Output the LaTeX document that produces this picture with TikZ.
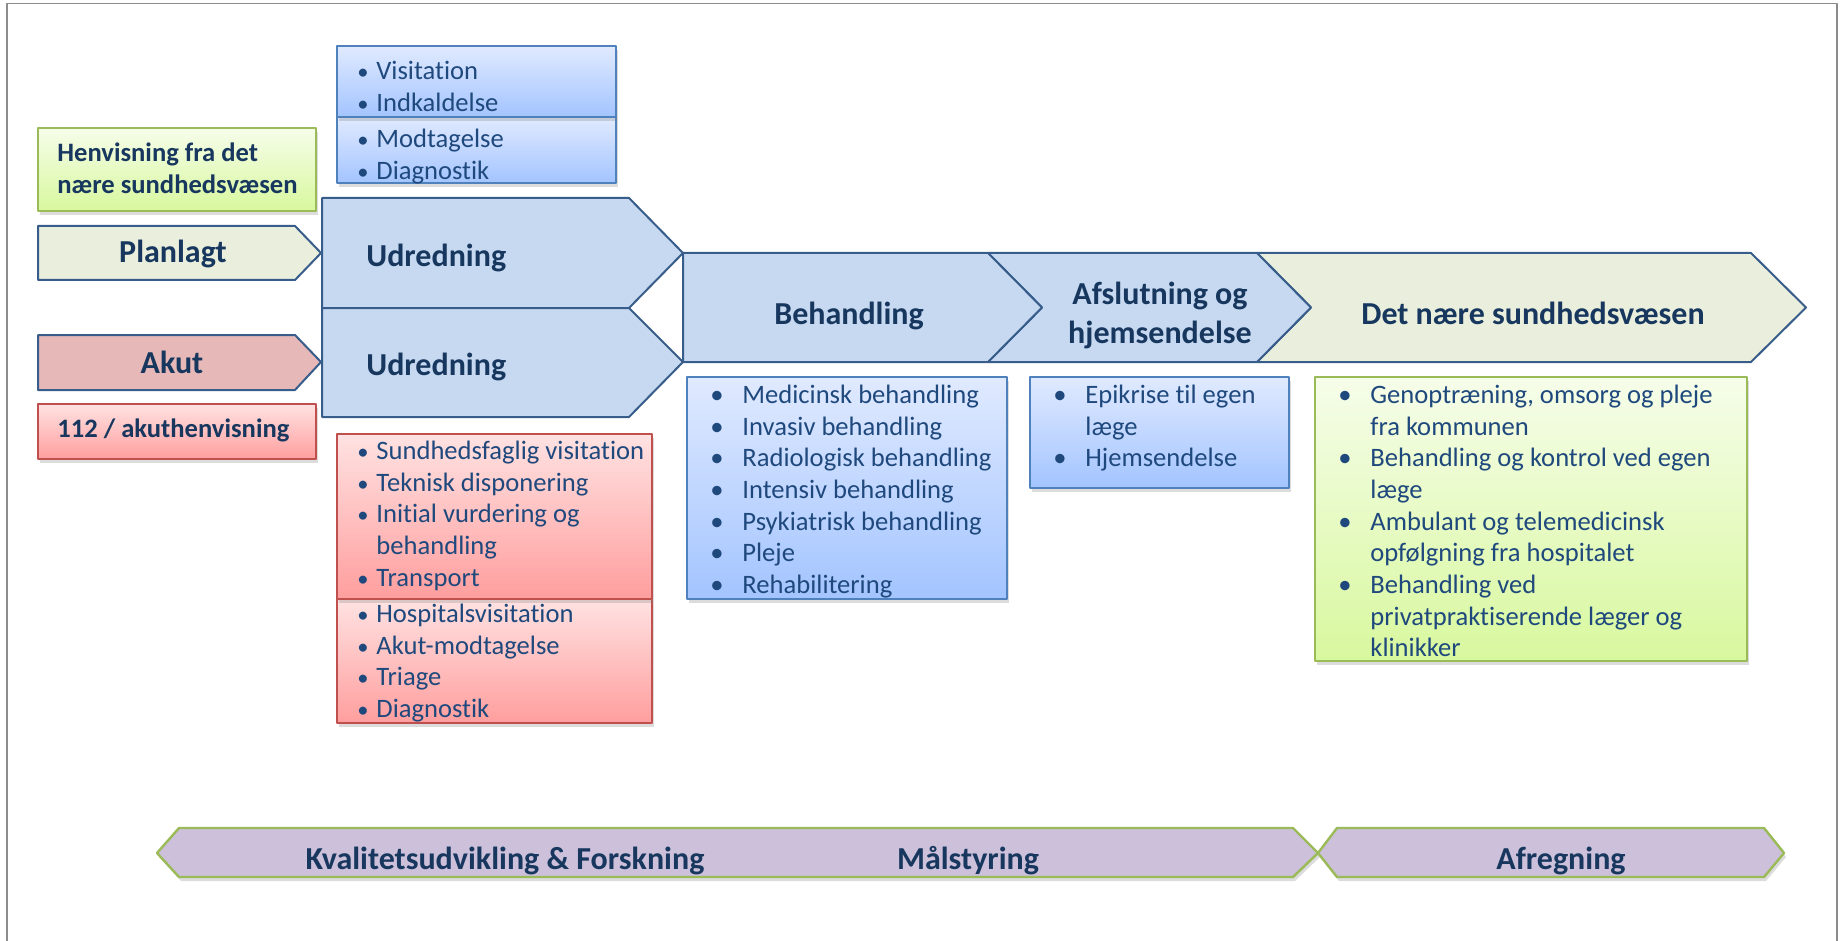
\documentclass[tikz,border=0pt]{standalone}
\usepackage{fontspec}
\setmainfont{Carlito}[Ligatures={NoCommon}]
\usetikzlibrary{shadows}

\definecolor{arrline}{RGB}{56,93,138}
\definecolor{arrblue}{RGB}{198,217,241}
\definecolor{arrgreen}{RGB}{234,239,221}
\definecolor{arrred}{RGB}{230,185,184}
\definecolor{ttltxt}{RGB}{23,55,94}
\definecolor{bultxt}{RGB}{31,73,125}
\definecolor{bboxline}{RGB}{79,129,189}
\definecolor{bboxtop}{RGB}{224,234,255}
\definecolor{bboxbot}{RGB}{163,196,255}
\definecolor{rboxline}{RGB}{192,80,77}
\definecolor{rboxtop}{RGB}{255,226,226}
\definecolor{rboxbot}{RGB}{255,158,158}
\definecolor{gboxline}{RGB}{155,187,89}
\definecolor{gboxtop}{RGB}{246,253,234}
\definecolor{gboxbot}{RGB}{216,248,158}
\definecolor{hexfill}{RGB}{204,192,218}
\definecolor{framegray}{RGB}{140,140,140}

\newcommand{\bul}{\strut\makebox[9.5pt][l]{\scalebox{0.85}{\textbullet}}}
\newcommand{\bulw}{\strut\makebox[16pt][l]{\textbullet}}
\newcommand{\cnt}{\strut\hspace*{9.5pt}}
\newcommand{\cntw}{\strut\hspace*{16pt}}

\begin{document}
\begin{tikzpicture}[x=0.5pt,y=-0.5pt,line join=round,
    arr/.style={draw=arrline,line width=1pt},
    shd/.style={drop shadow={shadow xshift=1pt,shadow yshift=-2pt,opacity=0.28}},
    bbox/.style={shd,draw=bboxline,line width=0.75pt,top color=bboxtop,bottom color=bboxbot},
    rbox/.style={shd,draw=rboxline,line width=0.75pt,top color=rboxtop,bottom color=rboxbot},
    gbox/.style={shd,draw=gboxline,line width=0.75pt,top color=gboxtop,bottom color=gboxbot},
    hex/.style={shd,draw=gboxline,line width=1.2pt,fill=hexfill},
    ttl/.style={font=\fontsize{16}{19.5}\selectfont\bfseries,text=ttltxt,inner sep=0pt},
    hdr/.style={font=\fontsize{13.3}{16}\selectfont\bfseries,text=ttltxt,align=left,inner sep=0pt},
    lst/.style={font=\fontsize{13.3}{15.85}\selectfont,text=bultxt,align=left,inner sep=0pt,anchor=north west}]
    \useasboundingbox (0,0) rectangle (1841,941);
    \draw[framegray,line width=0.85pt] (7,960) -- (7,3.5) -- (1837,3.5) -- (1837,960);

    % left column
    \draw[gbox] (38,128) rectangle (316,211);
    \node[hdr,anchor=north west] (henv) at (57,138.6) {\strut Henvisning fra det\\\strut nære sundhedsvæsen};
    \draw[arr,fill=arrgreen] (38,226) -- (295,226) -- (321,253) -- (295,280) -- (38,280) -- cycle;
    \node[ttl,anchor=base] (planlagt) at (173,263) {Planlagt};
    \draw[arr,fill=arrred] (38,335) -- (295,335) -- (321,362) -- (295,390) -- (38,390) -- cycle;
    \node[ttl,anchor=base] (akut) at (172,373) {Akut};
    \draw[rbox] (38,404) rectangle (316,459);
    \node[hdr,anchor=base west] (akuthenv) at (57,437) {112 / akuthenvisning};

    % udredning
    \draw[bbox] (337,117) rectangle (616,183);
    \draw[bbox] (337,46) rectangle (616,117);
    \node[lst] (visit) at (357,56.8) {\bul Visitation\\\bul Indkaldelse};
    \node[lst] (modt) at (357,124.8) {\bul Modtagelse\\\bul Diagnostik};
    \draw[arr,fill=arrblue] (322,198) -- (629,198) -- (683,253) -- (629,308) -- (322,308) -- cycle;
    \draw[arr,fill=arrblue] (322,308) -- (629,308) -- (683,362) -- (629,417) -- (322,417) -- cycle;
    \node[ttl,anchor=base west] (udr1) at (366,266) {Udredning};
    \node[ttl,anchor=base west] (udr2) at (366,375) {Udredning};
    \draw[rbox] (337,599) rectangle (652,723);
    \draw[rbox] (337,434) rectangle (652,599);
    \node[lst] (praehosp) at (357,436.8) {\bul Sundhedsfaglig visitation\\\bul Teknisk disponering\\\bul Initial vurdering og\\\cnt behandling\\\bul Transport};
    \node[lst] (hosp) at (357,599.8) {\bul Hospitalsvisitation\\\bul Akut-modtagelse\\\bul Triage\\\bul Diagnostik};

    % forloeb
    \draw[arr,fill=arrgreen] (1257,253) -- (1751,253) -- (1806,307.5) -- (1751,362) -- (1257,362) -- (1311,307.5) -- cycle;
    \draw[arr,fill=arrblue] (988,253) -- (1257,253) -- (1311,307.5) -- (1257,362) -- (988,362) -- (1042,307.5) -- cycle;
    \draw[arr,fill=arrblue] (683,253) -- (988,253) -- (1042,307.5) -- (988,362) -- (683,362) -- cycle;
    \node[ttl,anchor=base] (beh) at (849,324) {Behandling};
    \node[ttl,anchor=north,align=center] (afsl) at (1160,276.7) {\strut Afslutning og\\\strut hjemsendelse};
    \node[ttl,anchor=base] (naere) at (1533,324) {Det nære sundhedsvæsen};

    \draw[bbox] (687,377) rectangle (1007,599);
    \node[lst] (behl) at (710,380.8) {\bulw Medicinsk behandling\\\bulw Invasiv behandling\\\bulw Radiologisk behandling\\\bulw Intensiv behandling\\\bulw Psykiatrisk behandling\\\bulw Pleje\\\bulw Rehabilitering};
    \draw[bbox] (1030,377) rectangle (1289,488);
    \node[lst] (afsll) at (1053,380.8) {\bulw Epikrise til egen\\\cntw læge\\\bulw Hjemsendelse};
    \draw[gbox] (1315,377) rectangle (1747,661);
    \node[lst] (naerel) at (1338,380.8) {\bulw Genoptræning, omsorg og pleje\\\cntw fra kommunen\\\bulw Behandling og kontrol ved egen\\\cntw læge\\\bulw Ambulant og telemedicinsk\\\cntw opfølgning fra hospitalet\\\bulw Behandling ved\\\cntw privatpraktiserende læger og\\\cntw klinikker};

    % tvaergaaende
    \draw[hex] (157,853) -- (179,828) -- (1293,828) -- (1318,853) -- (1293,877) -- (179,877) -- cycle;
    \draw[hex] (1318,853) -- (1337,828) -- (1764,828) -- (1784,853) -- (1764,877) -- (1337,877) -- cycle;
    \node[ttl,anchor=base] (kval) at (505,869) {Kvalitetsudvikling \& Forskning};
    \node[ttl,anchor=base] (maal) at (968,869) {Målstyring};
    \node[ttl,anchor=base] (afreg) at (1561,869) {Afregning};
\end{tikzpicture}
\end{document}
